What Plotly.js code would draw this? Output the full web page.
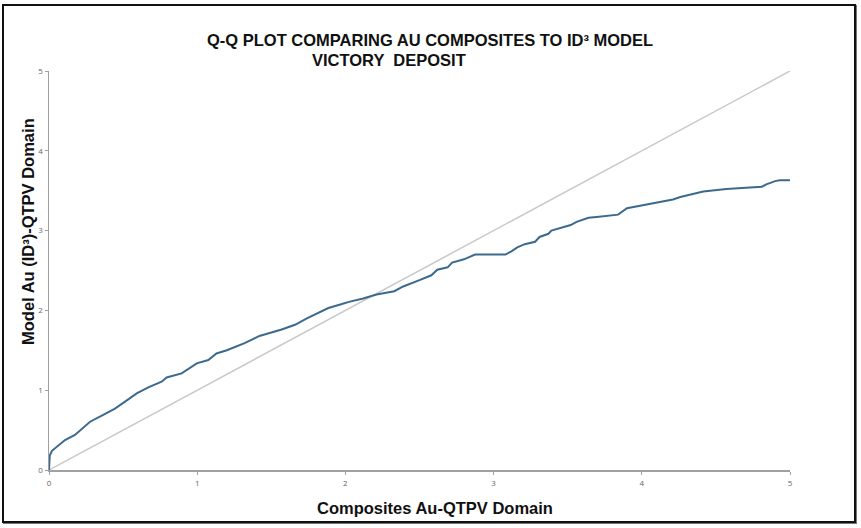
<!DOCTYPE html>
<html>
<head>
<meta charset="utf-8">
<script src="https://cdn.plot.ly/plotly-3.0.1.min.js"></script>
<style>
  html, body { margin: 0; padding: 0; background: #fff; }
  #chart { position: absolute; left: 0; top: 0; width: 861px; height: 528px; }
  #frame { position: absolute; left: 2px; top: 4px; width: 854px; height: 519px; box-sizing: border-box;
           border: 2px solid #111; pointer-events: none; box-shadow: 1px 1px 0 #777; }
</style>
</head>
<body>
<div id="chart"></div>
<div id="frame"></div>
<script>
// Q-Q curve: composites quantiles (x) vs ID3 model quantiles (y)
const compositesAu = [0, 0.002, 0.005, 0.02, 0.05, 0.108, 0.175, 0.277, 0.366, 0.445, 0.513, 0.592, 0.67, 0.76, 0.794,
  0.895, 0.997, 1.075, 1.13, 1.2, 1.32, 1.42, 1.57, 1.66, 1.74, 1.81, 1.885, 1.96, 2.03, 2.12, 2.21, 2.33, 2.39,
  2.50, 2.58, 2.62, 2.69, 2.72, 2.77, 2.80, 2.875, 3.08, 3.12, 3.16, 3.21, 3.28, 3.31, 3.37, 3.39, 3.52, 3.56, 3.64,
  3.695, 3.84, 3.90, 4.01, 4.06, 4.21, 4.26, 4.38, 4.415, 4.57, 4.81, 4.84, 4.90, 4.93, 5.0];
const modelAu = [0, 0.10, 0.18, 0.24, 0.29, 0.376, 0.44, 0.605, 0.69, 0.77, 0.856, 0.96, 1.036, 1.107, 1.16,
  1.21, 1.337, 1.378, 1.46, 1.50, 1.59, 1.68, 1.76, 1.82, 1.90, 1.96, 2.03, 2.07, 2.11, 2.15, 2.20, 2.24, 2.30,
  2.38, 2.44, 2.51, 2.54, 2.60, 2.62, 2.64, 2.70, 2.70, 2.74, 2.79, 2.83, 2.86, 2.92, 2.96, 3.00, 3.07, 3.11, 3.16,
  3.17, 3.20, 3.28, 3.32, 3.34, 3.39, 3.42, 3.47, 3.49, 3.52, 3.55, 3.58, 3.62, 3.63, 3.63];
// 1:1 reference line
const refX = [0, 5];
const refY = [0, 5];
const tickVals = [0, 1, 2, 3, 4, 5];
const tickText = ['0', '1', '2', '3', '4', '5'];

const titleLine1 = 'Q-Q PLOT COMPARING AU COMPOSITES TO ID³ MODEL';
const titleLine2 = 'VICTORY  DEPOSIT';
const xTitle = 'Composites Au-QTPV Domain';
const yTitle = 'Model Au (ID³)-QTPV Domain';

const traces = [
  { x: refX, y: refY, mode: 'lines', line: { color: '#c8c8c8', width: 1.5 }, hoverinfo: 'skip' },
  { x: compositesAu, y: modelAu, mode: 'lines', line: { color: '#3c6a8e', width: 2, shape: 'linear' } }
];

const axisCommon = {
  range: [0, 5], tickvals: tickVals, ticktext: tickText, showgrid: false, zeroline: false,
  showline: true, linecolor: '#a0a0a0', linewidth: 1.5, ticks: 'outside', ticklen: 3, tickcolor: '#a0a0a0',
  tickfont: { family: 'Open Sans, sans-serif', size: 8, color: '#666' }, fixedrange: true
};

const bold = 'Liberation Sans, Arial, sans-serif';
const layout = {
  width: 861, height: 528,
  margin: { l: 49, r: 71, t: 71, b: 58 },
  paper_bgcolor: '#fff', plot_bgcolor: '#fff',
  showlegend: false,
  xaxis: Object.assign({}, axisCommon, { ticklabelstandoff: 2 }),
  yaxis: Object.assign({}, axisCommon),
  annotations: [
    { text: '<b>' + titleLine1 + '</b>', xref: 'paper', yref: 'paper', x: (430 - 49) / 741, y: 1 + (71 - 40) / 399,
      xanchor: 'center', yanchor: 'middle', showarrow: false, font: { family: bold, size: 16.5, color: '#111' } },
    { text: '<b>' + titleLine2 + '</b>', xref: 'paper', yref: 'paper', x: (310 - 49) / 741, y: 1 + (71 - 60) / 399,
      xanchor: 'left', yanchor: 'middle', showarrow: false, font: { family: bold, size: 16.5, color: '#111' } },
    { text: '<b>' + xTitle + '</b>', xref: 'paper', yref: 'paper', x: (435 - 49) / 741, y: -(508 - 470) / 399,
      xanchor: 'center', yanchor: 'middle', showarrow: false, font: { family: bold, size: 16.5, color: '#111' } },
    { text: '<b>' + yTitle + '</b>', xref: 'paper', yref: 'paper', x: -(49 - 28) / 741, y: (470 - 232) / 399,
      xanchor: 'center', yanchor: 'middle', textangle: -90, showarrow: false, font: { family: bold, size: 16.5, color: '#111' } }
  ]
};

Plotly.newPlot('chart', traces, layout, { displayModeBar: false, staticPlot: true });
</script>
</body>
</html>
